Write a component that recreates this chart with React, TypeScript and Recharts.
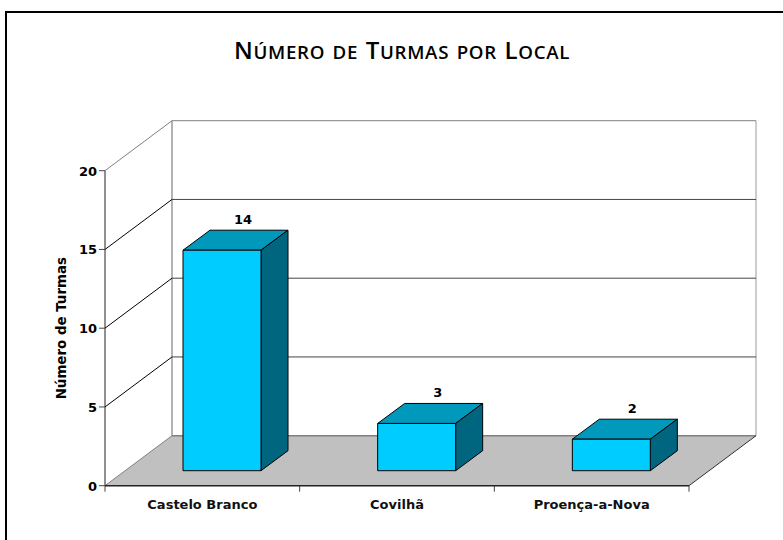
import { BarChart, Bar, XAxis, YAxis, LabelList } from 'recharts';

const categories = ['Castelo Branco', 'Covilhã', 'Proença-a-Nova'];
const turmas = [14, 3, 2];
const yTicks = [0, 5, 10, 15, 20];

const chartData = categories.map((local, i) => ({ local, turmas: turmas[i] }));

const FONT = '"DejaVu Sans", Verdana, sans-serif';
// offset of the back wall from the front plane
const DEPTH_X = 67;
const DEPTH_Y = 50;
const PLOT_WIDTH = 584;
const PLOT_HEIGHT = 315;
const MARGIN_TOP = 170.7;
const MARGIN_RIGHT = 94;
const AXIS_WIDTH = 105;
const AXIS_HEIGHT = 54.3;

// walls, floor and grid hang off the y axis ticks so they follow its scale
const YTick = ({ x, y, payload }: any) => {
  const axisX = x + 8;
  const value = payload.value;
  const backX = axisX + DEPTH_X;
  const backY = y - DEPTH_Y;
  const isTop = value === 20;
  const isFloor = value === 0;
  return (
    <g>
      {isFloor && (
        <polygon
          points={`${axisX},${y} ${axisX + PLOT_WIDTH},${y} ${backX + PLOT_WIDTH},${backY} ${backX},${backY}`}
          fill="#c0c0c0"
        />
      )}
      {isFloor && (
        <>
          <line x1={backX} y1={backY} x2={backX} y2={backY - PLOT_HEIGHT} stroke="#9a9a9a" strokeWidth={1.5} />
          <line x1={backX + PLOT_WIDTH} y1={backY} x2={backX + PLOT_WIDTH} y2={backY - PLOT_HEIGHT} stroke="#9a9a9a" strokeWidth={1} />
        </>
      )}
      <line
        x1={backX}
        y1={backY}
        x2={backX + PLOT_WIDTH}
        y2={backY}
        stroke={isTop || isFloor ? '#808080' : '#444'}
        strokeWidth={isFloor ? 1.5 : 1}
      />
      <line x1={axisX} y1={y} x2={backX} y2={backY} stroke={isTop || isFloor ? '#808080' : '#000'} strokeWidth={1} />
      {isFloor && (
        <>
          <line x1={axisX + PLOT_WIDTH} y1={y} x2={backX + PLOT_WIDTH} y2={backY} stroke="#333" strokeWidth={1} />
          <line x1={axisX} y1={y} x2={axisX} y2={y - PLOT_HEIGHT} stroke="#222" strokeWidth={1} />
          <line x1={axisX} y1={y} x2={axisX + PLOT_WIDTH} y2={y} stroke="#222" strokeWidth={1.5} />
        </>
      )}
      <line x1={axisX - 6} y1={y} x2={axisX} y2={y} stroke="#444" strokeWidth={1} />
      <text x={axisX - 8} y={y} dy={5} textAnchor="end" fontFamily={FONT} fontWeight="bold" fontSize={13} fill="#000">
        {value}
      </text>
    </g>
  );
};

const XTick = ({ x, y, payload, index, width, visibleTicksCount }: any) => {
  const step = width / visibleTicksCount;
  const left = x - step / 2;
  const right = x + step / 2;
  const axisY = y - 8;
  return (
    <g>
      <line x1={left} y1={axisY} x2={left} y2={axisY + 6} stroke="#444" strokeWidth={1} />
      {index === visibleTicksCount - 1 && (
        <line x1={right} y1={axisY} x2={right} y2={axisY + 6} stroke="#444" strokeWidth={1} />
      )}
      <text x={x} y={axisY + 23} textAnchor="middle" fontFamily={FONT} fontWeight="bold" fontSize={13} fill="#111">
        {payload.value}
      </text>
    </g>
  );
};

const Box = ({ x, y, width, height }: any) => {
  const dx = 27;
  const dy = 20;
  const fx = x + 20;
  const fy = y - 15;
  return (
    <g stroke="#000" strokeWidth={1} strokeLinejoin="round">
      <polygon
        points={`${fx},${fy} ${fx + width},${fy} ${fx + width + dx},${fy - dy} ${fx + dx},${fy - dy}`}
        fill="#0099bb"
      />
      <polygon
        points={`${fx + width},${fy} ${fx + width + dx},${fy - dy} ${fx + width + dx},${fy + height - dy} ${fx + width},${fy + height}`}
        fill="#006680"
      />
      <rect x={fx} y={fy} width={width} height={height} fill="#00ccff" />
    </g>
  );
};

const big = { fontSize: 24 };
const small = { fontSize: 18.7 };
const layer = { position: 'absolute', left: 0, top: 0 } as const;

export default function App() {
  return (
    <div style={{ position: 'absolute', left: 0, top: 0, width: 783, height: 540, overflow: 'hidden', background: '#fff' }}>
      <div style={{ position: 'absolute', left: 5, top: 11, width: 800, height: 600, border: '2px solid #000' }} />
      <div
        style={{
          position: 'absolute',
          left: 0,
          top: 33,
          width: 804,
          textAlign: 'center',
          fontFamily: '"Open Sans", sans-serif',
          fontWeight: 600,
          letterSpacing: 0.7,
          wordSpacing: 2,
          textTransform: 'uppercase',
          color: '#000',
          whiteSpace: 'nowrap',
        }}
      >
        <span style={big}>N</span>
        <span style={small}>úmero de </span>
        <span style={big}>T</span>
        <span style={small}>urmas por </span>
        <span style={big}>L</span>
        <span style={small}>ocal</span>
      </div>
      {/* axes draw over series in one chart, so the boxes get their own layer on top */}
      <div style={layer}>
        <BarChart
          width={783}
          height={540}
          data={chartData}
          margin={{ top: MARGIN_TOP, right: MARGIN_RIGHT, bottom: 0, left: 0 }}
        >
          <XAxis
            dataKey="local"
            height={AXIS_HEIGHT}
            axisLine={false}
            tickLine={false}
            tick={XTick}
            interval={0}
          />
          <YAxis
            type="number"
            domain={[0, 20]}
            ticks={yTicks}
            width={AXIS_WIDTH}
            axisLine={false}
            tickLine={false}
            tick={YTick}
            interval={0}
            label={{
              value: 'Número de Turmas',
              angle: -90,
              position: 'insideLeft',
              dx: 56,
              dy: 0,
              style: { fontFamily: FONT, fontWeight: 'bold', fontSize: 13.4, fill: '#000', textAnchor: 'middle' },
            }}
          />
          <Bar dataKey="turmas" fill="none" isAnimationActive={false} />
        </BarChart>
      </div>
      <div style={layer}>
        <BarChart
          width={783}
          height={540}
          data={chartData}
          margin={{ top: MARGIN_TOP, right: MARGIN_RIGHT, bottom: AXIS_HEIGHT, left: AXIS_WIDTH }}
        >
          <XAxis dataKey="local" hide />
          <YAxis type="number" domain={[0, 20]} ticks={yTicks} hide />
          <Bar dataKey="turmas" barSize={78} shape={Box} isAnimationActive={false}>
            <LabelList
              dataKey="turmas"
              position="top"
              dx={41}
              dy={-36.5}
              fontFamily={FONT}
              fontWeight="bold"
              fontSize={13}
              fill="#000"
            />
          </Bar>
        </BarChart>
      </div>
    </div>
  );
}
